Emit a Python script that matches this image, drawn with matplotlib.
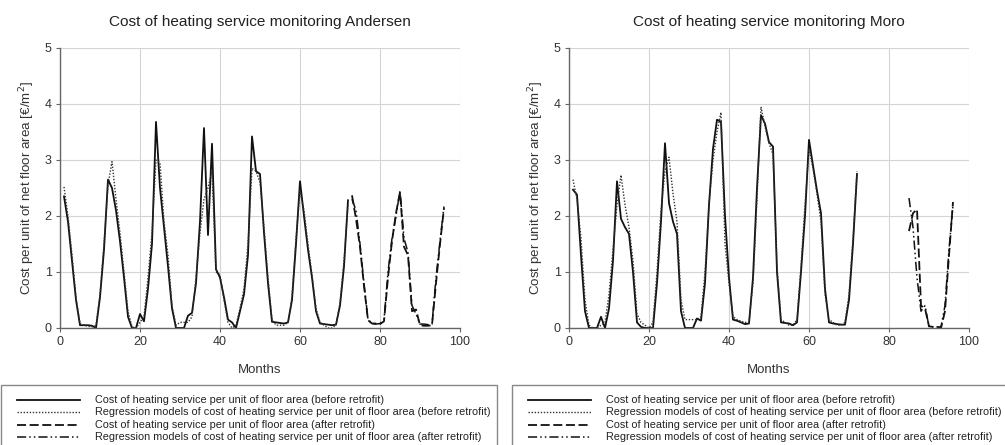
import matplotlib
matplotlib.use("Agg")
import matplotlib.pyplot as plt
from matplotlib.lines import Line2D
from matplotlib.patches import Rectangle

# ---------------- data ----------------
months_before = list(range(1, 73))
months_after_andersen = list(range(73, 97))
months_after_moro = list(range(85, 97))

andersen_before = [2.35, 1.9, 1.2, 0.5, 0.05, 0.05, 0.05, 0.04, 0.0, 0.55,
                   1.4, 2.65, 2.5, 2.1, 1.55, 0.9, 0.2, 0.0, 0.0, 0.25,
                   0.12, 0.7, 1.5, 3.68, 2.5, 1.8, 1.1, 0.35, 0.0, 0.0,
                   0.0, 0.22, 0.27, 0.8, 1.9, 3.57, 1.66, 3.29, 1.05, 0.9,
                   0.55, 0.15, 0.1, 0.0, 0.3, 0.6, 1.3, 3.42, 2.8, 2.75,
                   1.7, 0.8, 0.11, 0.1, 0.09, 0.08, 0.1, 0.5, 1.5, 2.62,
                   2.0, 1.4, 0.9, 0.3, 0.08, 0.07, 0.06, 0.05, 0.06, 0.4,
                   1.1, 2.28]
andersen_before_reg = [2.52, 2.0, 1.3, 0.55, 0.08, 0.05, 0.03, 0.02, 0.05, 0.6,
                       1.5, 2.55, 2.97, 2.3, 1.7, 1.0, 0.3, 0.02, 0.0, 0.1,
                       0.2, 0.9, 1.7, 3.0, 2.95, 1.9, 1.3, 0.4, 0.05, 0.1,
                       0.1, 0.1, 0.2, 0.9, 1.7, 2.3, 2.5, 2.8, 1.0, 0.95,
                       0.5, 0.1, 0.0, 0.05, 0.35, 0.7, 1.5, 2.85, 2.8, 2.6,
                       1.8, 0.9, 0.15, 0.05, 0.05, 0.05, 0.1, 0.55, 1.6, 2.45,
                       2.1, 1.5, 0.95, 0.35, 0.1, 0.05, 0.0, 0.0, 0.05, 0.45,
                       1.2, 2.2]
andersen_after = [2.37, 1.95, 1.45, 0.75, 0.14, 0.08, 0.08, 0.07, 0.12, 0.9,
                  1.55, 2.05, 2.43, 1.45, 1.3, 0.3, 0.33, 0.05, 0.04, 0.04,
                  0.05, 0.8, 1.5, 2.14]
andersen_after_reg = [2.3, 2.1, 1.5, 0.8, 0.15, 0.08, 0.07, 0.08, 0.15, 1.0,
                      1.6, 2.0, 2.45, 1.6, 1.35, 0.4, 0.25, 0.07, 0.07, 0.06,
                      0.07, 0.9, 1.55, 2.17]

moro_before = [2.47, 2.38, 1.3, 0.3, 0.0, 0.0, 0.0, 0.2, 0.0, 0.35,
               1.2, 2.62, 1.95, 1.8, 1.68, 1.0, 0.1, 0.02, 0.0, 0.0,
               0.0, 0.8, 1.9, 3.3, 2.23, 1.9, 1.68, 0.3, 0.0, 0.0,
               0.0, 0.17, 0.13, 0.8, 2.2, 3.2, 3.72, 3.68, 2.0, 0.9,
               0.15, 0.13, 0.1, 0.07, 0.08, 0.9, 2.5, 3.8, 3.65, 3.32,
               3.24, 1.0, 0.1, 0.09, 0.08, 0.05, 0.1, 1.0, 2.0, 3.36,
               2.9, 2.45, 2.05, 0.7, 0.1, 0.08, 0.07, 0.06, 0.06, 0.5,
               1.5, 2.75]
moro_before_reg = [2.65, 2.3, 1.6, 0.5, 0.05, 0.0, 0.0, 0.05, 0.1, 0.6,
                   1.4, 2.2, 2.73, 2.2, 1.8, 1.2, 0.25, 0.1, 0.05, 0.0,
                   0.1, 1.0, 2.1, 2.8, 3.05, 2.4, 1.9, 0.5, 0.15, 0.15,
                   0.15, 0.15, 0.2, 1.0, 2.2, 3.0, 3.5, 3.85, 1.5, 0.8,
                   0.2, 0.15, 0.12, 0.1, 0.1, 0.8, 2.3, 3.95, 3.6, 3.3,
                   3.1, 1.1, 0.15, 0.1, 0.05, 0.05, 0.15, 1.1, 2.2, 3.2,
                   2.85, 2.4, 1.9, 0.6, 0.15, 0.1, 0.05, 0.05, 0.1, 0.6,
                   1.6, 2.8]
moro_after = [1.73, 2.05, 2.12, 0.4, 0.35, 0.03, 0.02, 0.0, 0.0, 0.3, 1.3, 2.25]
moro_after_reg = [2.32, 1.8, 0.9, 0.3, 0.4, 0.02, 0.02, 0.02, 0.02, 0.4, 1.4, 2.2]

titles = ["Cost of heating service monitoring Andersen",
          "Cost of heating service monitoring Moro"]
legend_labels = [
    "Cost of heating service per unit of floor area (before retrofit)",
    "Regression models of cost of heating service per unit of floor area (before retrofit)",
    "Cost of heating service per unit of floor area (after retrofit)",
    "Regression models of cost of heating service per unit of floor area (after retrofit)",
]
xticks = [0, 20, 40, 60, 80, 100]
yticks = [0, 1, 2, 3, 4, 5]

# ---------------- figure ----------------
plt.rcParams['font.family'] = ['Liberation Sans', 'DejaVu Sans']
W, H = 1005, 445
fig = plt.figure(figsize=(W / 100, H / 100), dpi=100)

def fx(px):
    return px / W

def fy(py):
    return 1 - py / H

ax_left_px = [60, 569]
ax_top, ax_bot = 48, 328
ax_w = 400

styles = [
    dict(color='#111111', lw=1.3, ls='-'),
    dict(color='#333333', lw=1.0, ls=(0, (1, 1.2))),
    dict(color='#111111', lw=1.3, ls=(0, (5, 2))),
    dict(color='#111111', lw=1.1, ls=(0, (6, 2, 1, 2, 1, 2))),
]

datasets = [
    (months_before, andersen_before, andersen_before_reg,
     months_after_andersen, andersen_after, andersen_after_reg),
    (months_before, moro_before, moro_before_reg,
     months_after_moro, moro_after, moro_after_reg),
]

for i, (lp, ds) in enumerate(zip(ax_left_px, datasets)):
    ax = fig.add_axes([fx(lp), fy(ax_bot), ax_w / W, (ax_bot - ax_top) / H])
    mb, yb, yb_reg, ma, ya, ya_reg = ds
    ax.plot(mb, yb, **styles[0])
    ax.plot(mb, yb_reg, **styles[1])
    ax.plot(ma, ya, **styles[2])
    ax.plot(ma, ya_reg, **styles[3])
    ax.set_xlim(0, 100)
    ax.set_ylim(0, 5)
    ax.set_xticks(xticks)
    ax.set_yticks(yticks)
    ax.grid(True, color='#d4d4d4', lw=0.8)
    ax.set_axisbelow(True)
    for s in ['top', 'right']:
        ax.spines[s].set_visible(False)
    for s in ['left', 'bottom']:
        ax.spines[s].set_color('#666666')
        ax.spines[s].set_linewidth(1.0)
    ax.tick_params(direction='out', length=3, width=0.8, color='#666666',
                   labelsize=9, labelcolor='#333333', pad=3)
    ax.text(0.5, 1 + 26 / 280, titles[i], transform=ax.transAxes,
            ha='center', va='center', fontsize=11.1, color='#222222')
    ax.set_xlabel("Months", fontsize=9.5, color='#333333')
    ax.xaxis.set_label_coords(0.5, -42 / 280)
    ax.xaxis.label.set_va('center')
    ax.set_ylabel("Cost per unit of net floor area [€/m$^2$]", fontsize=9.6, color='#333333')
    ax.yaxis.set_label_coords(-33 / 400, 0.5)
    ax.yaxis.label.set_va('center')

    # legend box drawn below the panel
    off = [0, 511][i]
    box = Rectangle((fx(1 + off), fy(450)), 496 / W, (450 - 385) / H,
                    transform=fig.transFigure, facecolor='white',
                    edgecolor='#888888', lw=1.0, clip_on=False)
    fig.patches.append(box)
    row_y = [400, 412.3, 424.6, 437]
    for st, lab, ry in zip(styles, legend_labels, row_y):
        fig.lines.append(Line2D([fx(17 + off), fx(80 + off)], [fy(ry), fy(ry)],
                                transform=fig.transFigure, **st))
        fig.text(fx(95 + off), fy(ry), lab, ha='left', va='center',
                 fontsize=7.8, color='#222222')

fig.savefig("out.png", dpi=100)
